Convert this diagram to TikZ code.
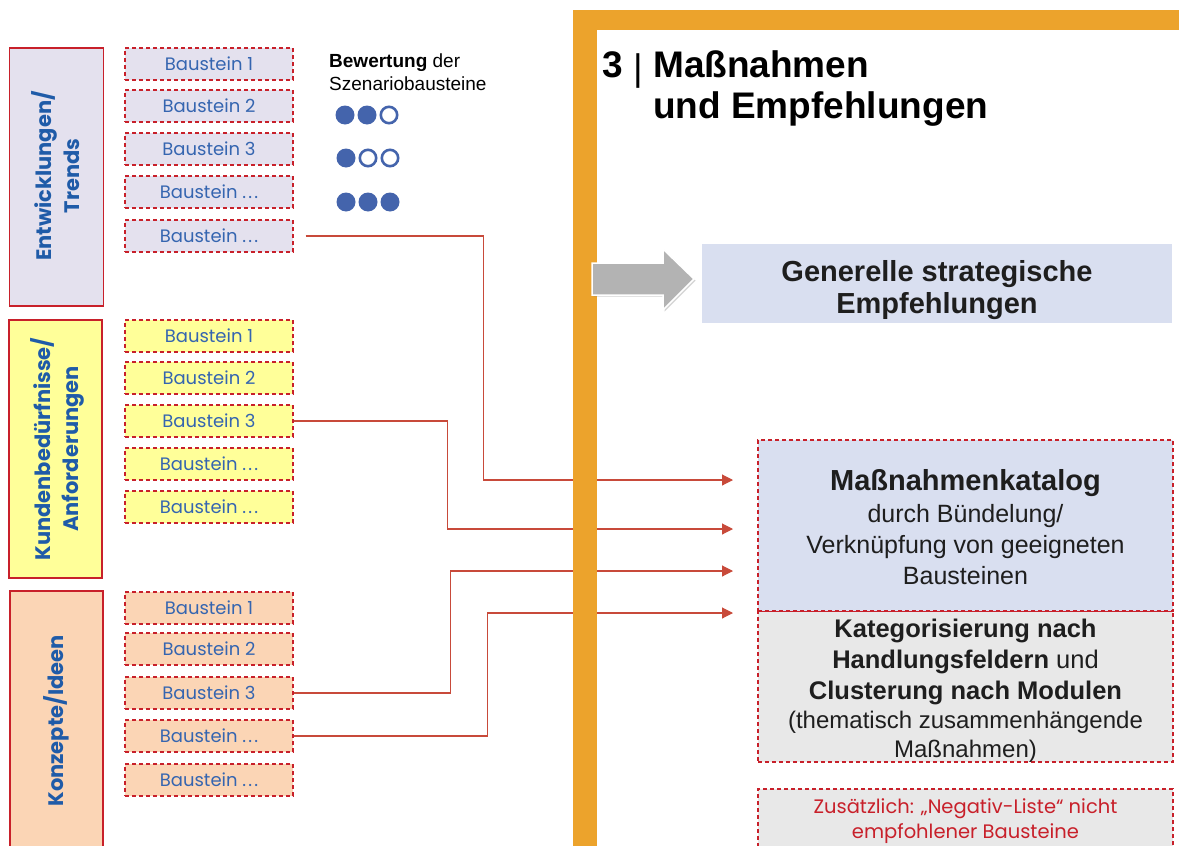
\documentclass[tikz,border=0pt]{standalone}
\usepackage{fontspec}
\setmainfont{Liberation Sans}
\newfontfamily\gothic{Poppins}
\usetikzlibrary{arrows.meta,shadows}

\definecolor{dred}{HTML}{C8202A}
\definecolor{lred}{HTML}{C84A3A}
\definecolor{bblue}{HTML}{3565B0}
\definecolor{lblue}{HTML}{1F5BA8}
\definecolor{lav}{HTML}{E4E1EE}
\definecolor{yel}{HTML}{FFFF99}
\definecolor{peach}{HTML}{FBD5B5}
\definecolor{orng}{HTML}{ECA32C}
\definecolor{pale}{HTML}{D9DFF0}
\definecolor{lgray}{HTML}{E8E8E8}
\definecolor{dotblue}{HTML}{4464AC}
\definecolor{arrgray}{HTML}{B3B3B3}
\definecolor{ink}{HTML}{1E1E1E}

\newcommand{\ellip}{.\kern2.2pt.\kern2.2pt.}

\tikzset{
  cat/.style={draw=dred, line width=1.3pt, inner sep=0pt},
  catlab/.style={rotate=90, text=lblue, align=center, inner sep=0pt,
    font=\gothic\bfseries\fontsize{21}{28}\selectfont},
  bst/.style={draw=dred, line width=1.2pt, dash pattern=on 4pt off 3pt,
    minimum width=168pt, minimum height=32pt, inner sep=0pt, text=bblue,
    text height=12.6pt, text depth=0pt,
    font=\gothic\fontsize{18}{18}\selectfont},
  bigbox/.style={draw=dred, line width=1.2pt, dash pattern=on 4pt off 3pt,
    minimum width=415pt, inner sep=0pt},
  conn/.style={draw=lred, line width=1.1pt},
  arr/.style={conn, -{Triangle[length=11pt,width=11pt]}},
  dotf/.style={circle, fill=dotblue, minimum size=19pt, inner sep=0pt},
  doto/.style={circle, draw=dotblue, fill=white, line width=2.6pt, minimum size=16.4pt, inner sep=0pt},
  txt/.style={anchor=base, text=ink, inner sep=0pt},
  hbold/.style={txt, font=\bfseries\fontsize{29}{29}\selectfont},
  mbold/.style={txt, font=\bfseries\fontsize{25.5}{25.5}\selectfont},
  mreg/.style={txt, font=\fontsize{25}{25}\selectfont},
}

\begin{document}
\begin{tikzpicture}[x=1pt,y=-1pt]
\useasboundingbox (0,0) rectangle (1179,846);
\clip (0,0) rectangle (1179,846);

% category columns
\node[cat, fill=lav, minimum width=94pt, minimum height=258pt] (c1) at (56.5,177) {};
\node[cat, fill=yel, minimum width=93pt, minimum height=258pt] (c2) at (55.5,449) {};
\node[cat, fill=peach, minimum width=93pt, minimum height=262pt] (c3) at (56.5,722) {};
\node[catlab] (c1l) at (55.5,176) {Entwicklungen/\\Trends};
\node[catlab] (c2l) at (57.5,449) {Kundenbedürfnisse/\\Anforderungen};
\node[catlab] (c3l) at (56,721) {Konzepte/Ideen};

% building blocks
\foreach \n/\y/\t in {a/64/1, b/106/2, c/149/3, d/192/{\ellip}, e/236/{\ellip}}
  \node[bst, fill=lav] (g1\n) at (209,\y) {Baustein \t};
\foreach \n/\y/\t in {a/336/1, b/378/2, c/421/3, d/464/{\ellip}, e/507/{\ellip}}
  \node[bst, fill=yel] (g2\n) at (209,\y) {Baustein \t};
\foreach \n/\y/\t in {a/608/1, b/649/2, c/693/3, d/736/{\ellip}, e/780/{\ellip}}
  \node[bst, fill=peach] (g3\n) at (209,\y) {Baustein \t};

% rating legend
\node[anchor=base west, inner sep=0pt, font=\fontsize{19}{19}\selectfont] (bw1) at (329,67) {\textbf{Bewertung} der};
\node[anchor=base west, inner sep=0pt, font=\fontsize{19}{19}\selectfont] (bw2) at (329,90) {Szenariobausteine};
\node[dotf] (d11) at (345,115) {};
\node[dotf] (d12) at (367,115) {};
\node[doto] (d13) at (389,115) {};
\node[dotf] (d21) at (346,158) {};
\node[doto] (d22) at (368,158) {};
\node[doto] (d23) at (390,158) {};
\node[dotf] (d31) at (346,202) {};
\node[dotf] (d32) at (368,202) {};
\node[dotf] (d33) at (390,202) {};

% arrow targets
\coordinate (t1) at (733,480);
\coordinate (t2) at (733,529);
\coordinate (t3) at (733,571);
\coordinate (t4) at (733,613);

% connectors
\draw[arr, shorten <=12pt] (g1e.east) -- ++(190,0) |- (t1);
\draw[arr] (g2c.east) -- ++(154,0) |- (t2);
\draw[arr] (g3c.east) -- ++(157,0) |- (t3);
\draw[arr] (g3d.east) -- ++(194,0) |- (t4);

% orange frame
\fill[orng] (573,10) rectangle (1185,30);
\fill[orng] (573,10) rectangle (597,860);

% title
\node[anchor=base west, inner sep=0pt, font=\bfseries\fontsize{37}{37}\selectfont] (h0) at (602,77) {3};
\node[anchor=base, inner sep=0pt, font=\fontsize{37}{37}\selectfont] (hb) at (638,80) {|};
\node[anchor=base west, inner sep=0pt, font=\bfseries\fontsize{37}{37}\selectfont] (h1) at (653,77) {Maßnahmen};
\node[anchor=base west, inner sep=0pt, font=\bfseries\fontsize{37}{37}\selectfont] (h2) at (653,118) {und Empfehlungen};

% grey block arrow
\filldraw[fill=arrgray, draw=white, line width=1.5pt,
  drop shadow={opacity=0.35, shadow xshift=1.5pt, shadow yshift=-1.5pt}]
  (592,263) -- (663,263) -- (663,249) -- (694,279) -- (663,310) -- (663,295) -- (592,295) -- cycle;

% general recommendations
\node[fill=pale, minimum width=470pt, minimum height=79pt, inner sep=0pt] (gen) at (937,283.5) {};
\node[hbold] (gen1) at (937,281) {Generelle strategische};
\node[hbold] (gen2) at (937,313) {Empfehlungen};

% measures catalogue
\node[bigbox, fill=lgray, minimum height=151pt] (kat) at (965.5,686.5) {};
\node[bigbox, fill=pale, minimum height=171pt] (mk) at (965.5,525.5) {};
\node[hbold] (mk1) at (965.5,490) {Maßnahmenkatalog};
\node[mreg] (mk2) at (965.5,522) {durch Bündelung/};
\node[mreg] (mk3) at (965.5,553) {Verknüpfung von geeigneten};
\node[mreg] (mk4) at (965.5,584) {Bausteinen};

\node[mbold] (k1) at (965.5,637) {Kategorisierung nach};
\node[mbold] (k2) at (965.5,668) {Handlungsfeldern \mdseries und};
\node[mbold] (k3) at (965.5,699) {Clusterung nach Modulen};
\node[mreg, font=\fontsize{24}{24}\selectfont] (k4) at (965.5,728) {(thematisch zusammenhängende};
\node[mreg, font=\fontsize{24}{24}\selectfont] (k5) at (965.5,757) {Maßnahmen)};

% negative list
\node[bigbox, fill=lgray, minimum height=75pt] (neg) at (965.5,826.5) {};
\node[txt, text=dred, font=\gothic\fontsize{19.5}{19.5}\selectfont] (n1) at (965.5,813) {Zusätzlich: „Negativ-Liste“ nicht};
\node[txt, text=dred, font=\gothic\fontsize{19.5}{19.5}\selectfont] (n2) at (965.5,838) {empfohlener Bausteine};
\end{tikzpicture}
\end{document}
